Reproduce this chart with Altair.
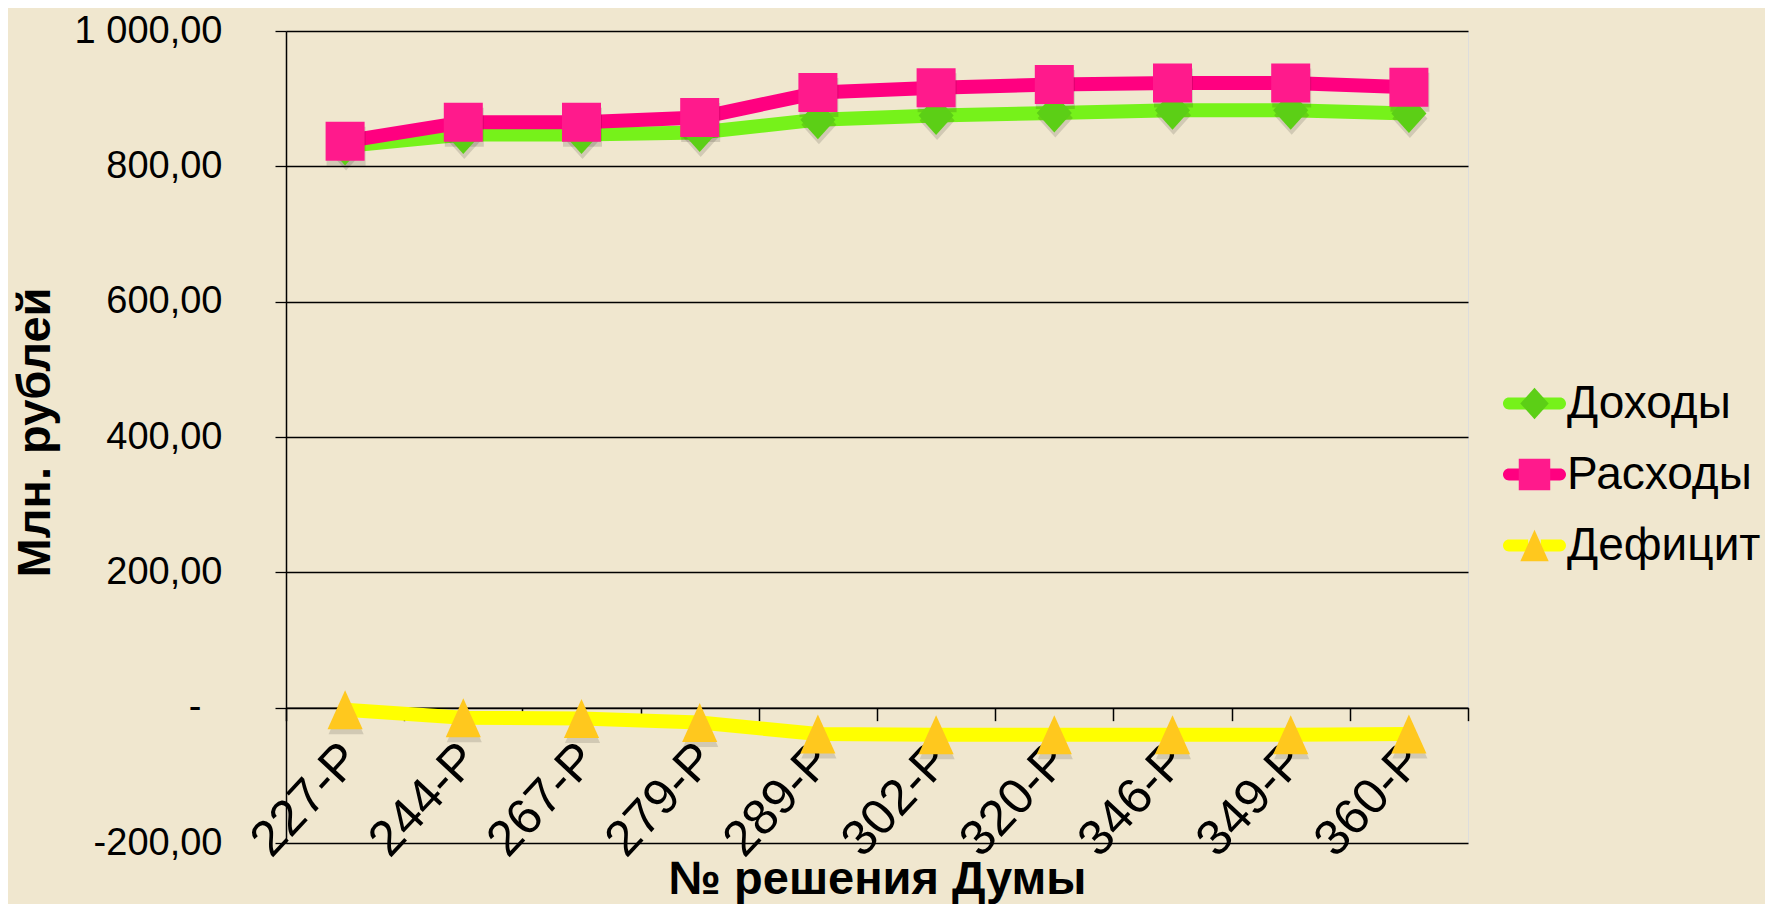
import altair as alt
import pandas as pd

# ---- data ----
categories = ["227-Р", "244-Р", "267-Р", "279-Р", "289-Р",
              "302-Р", "320-Р", "346-Р", "349-Р", "360-Р"]
series_names = ["Доходы", "Расходы", "Дефицит"]
income = [830, 847, 847, 850, 869, 875, 879, 883, 883, 878]
expense = [837, 865, 865, 872, 909, 916, 921, 923, 923, 917]
deficit = [-3, -15, -16, -22, -39, -40, -40, -40, -40, -39]
y_ticks = [-200, 0, 200, 400, 600, 800, 1000]
legend_keys = ["k0", "k1", "k2"]

# ---- styles ----
FONT = "Liberation Sans"
BG = "#F0E7CF"
line_colors = ["#76F21A", "#FF0080", "#FFFF00"]
marker_colors = ["#5CCF16", "#FF1A8C", "#FFC81E"]
DIAMOND = "M0,-0.5L0.45,0L0,0.5L-0.45,0Z"
SQUARE = "M-0.5,-0.5H0.5V0.5H-0.5Z"
TRIANGLE = "M0,-0.5L0.45,0.5L-0.45,0.5Z"
marker_paths = [DIAMOND, SQUARE, TRIANGLE]
LEG_BAR = ("M-0.81,-0.19L-0.2,-0.19L-0.2,0.19L-0.81,0.19A0.19,0.19 0 0 1 -0.81,-0.19Z"
           "M0.2,-0.19L0.81,-0.19A0.19,0.19 0 0 1 0.81,0.19L0.2,0.19Z")

rows = []
for key, name, vals in zip(legend_keys, series_names, [income, expense, deficit]):
    for c, v in zip(categories, vals):
        rows.append({"cat": c, "series": name, "value": v, "key": key})
df = pd.DataFrame(rows)

W, H = 1182, 812
YMIN, YMAX = -200, 1000
zero_offset = -H * (0 - YMIN) / (YMAX - YMIN)

label_expr = ("datum.value == 0 ? '-\u00a0\u00a0\u200b' : "
              "replace(replace(replace(format(datum.value, ',.2f'), ',', ' '), '.', ','), '\u2212', '-')")

x_enc = alt.X(
    "cat:N", sort=categories,
    scale=alt.Scale(type="band", paddingInner=0, paddingOuter=0),
    axis=alt.Axis(
        title="№ решения Думы", orient="bottom", offset=zero_offset,
        labelAngle=-47, labelAlign="right", labelBaseline="middle",
        labelFontSize=50, labelFont=FONT, labelColor="black",
        labelPadding=30, labelOffset=6, labelLimit=500,
        tickBand="extent", tickSize=13, tickColor="black", tickWidth=1.5,
        domainColor="black", domainWidth=1.5,
        titleFontSize=47, titleFont=FONT, titleFontWeight="bold", titleColor="black",
        titleX=W / 2, titleY=186, titleBaseline="alphabetic", titleAlign="center",
    ),
)
y_enc = alt.Y(
    "value:Q",
    scale=alt.Scale(domain=[YMIN, YMAX], nice=False, zero=False),
    axis=alt.Axis(
        values=y_ticks, labelExpr=label_expr,
        grid=True, gridColor="black", gridWidth=1.3, gridOpacity=1,
        tickSize=11, tickColor="black", tickWidth=1.3,
        domainColor="black", domainWidth=1.5,
        labelFontSize=38, labelFont=FONT, labelColor="black", labelPadding=53,
        title="Млн. рублей", titleFontSize=47, titleFont=FONT, titleFontWeight="bold",
        titleColor="black", titleAngle=-90, titleX=-251, titleY=H / 2 - 5,
        titleBaseline="middle", titleAlign="center",
    ),
)

base = alt.Chart(df)

lines = base.mark_line(strokeWidth=14, strokeJoin="round", strokeCap="round").encode(
    x=x_enc, y=y_enc,
    stroke=alt.Stroke("series:N", scale=alt.Scale(domain=series_names, range=line_colors), legend=None),
)

common_legend = dict(
    orient="none", legendX=1217, legendY=341, direction="vertical", padding=0,
    rowPadding=16, symbolSize=3969, symbolStrokeWidth=0, symbolOpacity=1,
    labelFont=FONT, labelFontSize=46, labelColor="black", labelOffset=1,
    labelLimit=500, title=None,
)

shadows = base.mark_point(filled=True, opacity=0.13, size=6084, color="#000000",
                          yOffset=5, xOffset=1).encode(
    x=x_enc, y=y_enc,
    shape=alt.Shape("series:N", scale=alt.Scale(domain=series_names, range=marker_paths),
                    legend=None),
)

points = base.mark_point(filled=True, opacity=1, size=6084).encode(
    x=x_enc, y=y_enc,
    fill=alt.Fill("series:N", scale=alt.Scale(domain=series_names, range=marker_colors),
                  legend=alt.Legend(**common_legend)),
    shape=alt.Shape("series:N", scale=alt.Scale(domain=series_names, range=marker_paths),
                    legend=alt.Legend(**common_legend)),
)

legend_bars = base.mark_point(filled=True, opacity=0, shape=LEG_BAR, size=10).encode(
    x=x_enc, y=y_enc,
    color=alt.Color("key:N", scale=alt.Scale(domain=legend_keys, range=line_colors),
                    legend=alt.Legend(symbolType=LEG_BAR, labelExpr="''", **common_legend)),
)

chart = alt.layer(lines, legend_bars, shadows, points).resolve_legend(
    color="independent", fill="independent", shape="independent"
).properties(
    width=W, height=H,
    autosize=alt.AutoSizeParams(type="none"),
    padding={"left": 278, "top": 23, "right": 297, "bottom": 61},
    background=BG,
).configure_view(stroke=None).configure(font=FONT)

chart.save("out.html", embed_options={"renderer": "svg", "actions": False})
